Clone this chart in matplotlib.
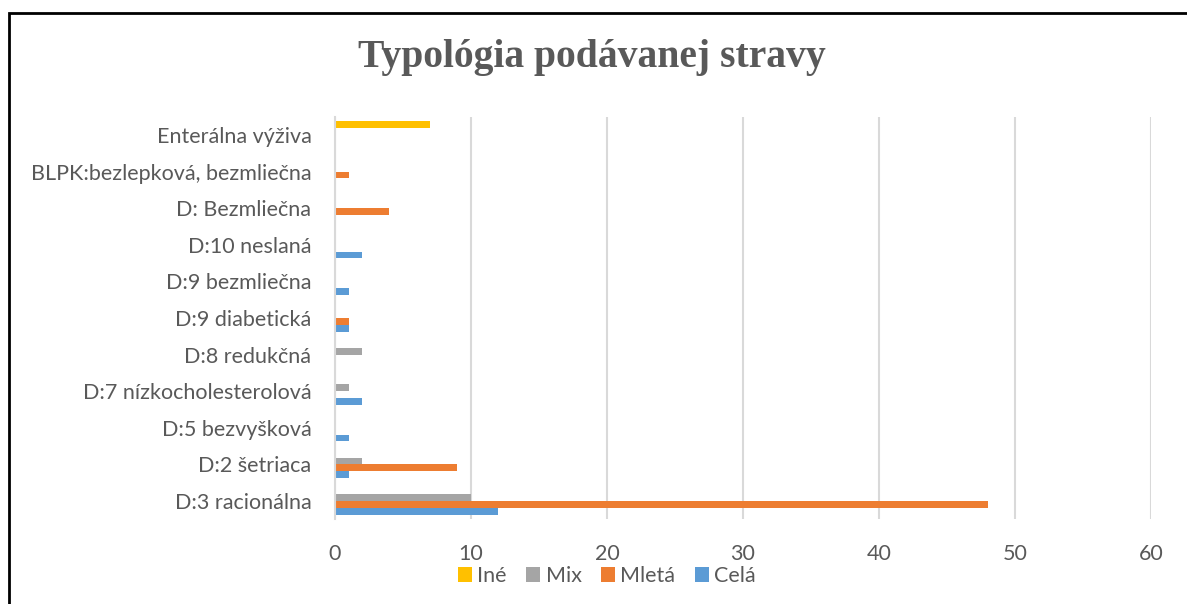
import numpy as np
import matplotlib.pyplot as plt
from matplotlib.patches import Rectangle

categories = ['D:3 racionálna', 'D:2 šetriaca', 'D:5 bezvyšková',
              'D:7 nízkocholesterolová', 'D:8 redukčná', 'D:9 diabetická',
              'D:9 bezmliečna', 'D:10 neslaná', 'D: Bezmliečna',
              'BLPK:bezlepková, bezmliečna', 'Enterálna výživa']
cela = [12, 1, 1, 2, 0, 1, 1, 2, 0, 0, 0]
mleta = [48, 9, 0, 0, 0, 1, 0, 0, 4, 1, 0]
mix = [10, 2, 0, 1, 2, 0, 0, 0, 0, 0, 0]
ine = [0, 0, 0, 0, 0, 0, 0, 0, 0, 0, 7]

series = [('Celá', cela, '#5B9BD5'), ('Mletá', mleta, '#ED7D31'),
          ('Mix', mix, '#A5A5A5'), ('Iné', ine, '#FFC000')]

txt = '#595959'
plt.rcParams['font.family'] = ['Lato', 'DejaVu Sans']

fig = plt.figure(figsize=(11.87, 6.04), dpi=100)
ax = fig.add_axes([335/1187, 1-519.3/604, 816/1187, 402.6/604])

y = np.arange(len(categories))
h = 0.185
bars = {}
for i, (name, vals, col) in enumerate(series):
    bars[name] = ax.barh(y + (i - 1.5)*h, vals, height=h, color=col, label=name)

ax.set_xlim(0, 60)
ax.set_ylim(-0.5, len(categories) - 0.5)
ax.set_xticks(range(0, 61, 10))
ax.set_yticks(y)
ax.set_yticklabels(categories)
ax.tick_params(length=0, labelsize=15.5, colors=txt)
ax.tick_params(axis='y', pad=17)
ax.tick_params(axis='x', pad=18)
ax.grid(axis='x', color='#D9D9D9', linewidth=1.5)
ax.set_axisbelow(True)
for s in ['top', 'right', 'bottom']:
    ax.spines[s].set_visible(False)
ax.spines['left'].set_color('#D9D9D9')
ax.spines['left'].set_linewidth(1.5)

fig.text(592/1187, 1-58/604, 'Typológia podávanej stravy', ha='center', va='center',
         fontsize=28.5, fontweight='bold', color=txt, family='Liberation Serif')

order = ['Iné', 'Mix', 'Mletá', 'Celá']
fig.legend([bars[n] for n in order], order, loc='center',
           bbox_to_anchor=(607/1187, 1-576/604), ncol=4, frameon=False,
           fontsize=15.5, labelcolor=txt, handlelength=0.65, handleheight=0.65,
           handletextpad=0.25, columnspacing=0.9, borderpad=0)

fig.patches.append(Rectangle((9/1187, -0.1), 1.2, 1.1 - 13/604,
                             transform=fig.transFigure, fill=False,
                             edgecolor='black', linewidth=2))

fig.savefig('out.png', dpi=100)
